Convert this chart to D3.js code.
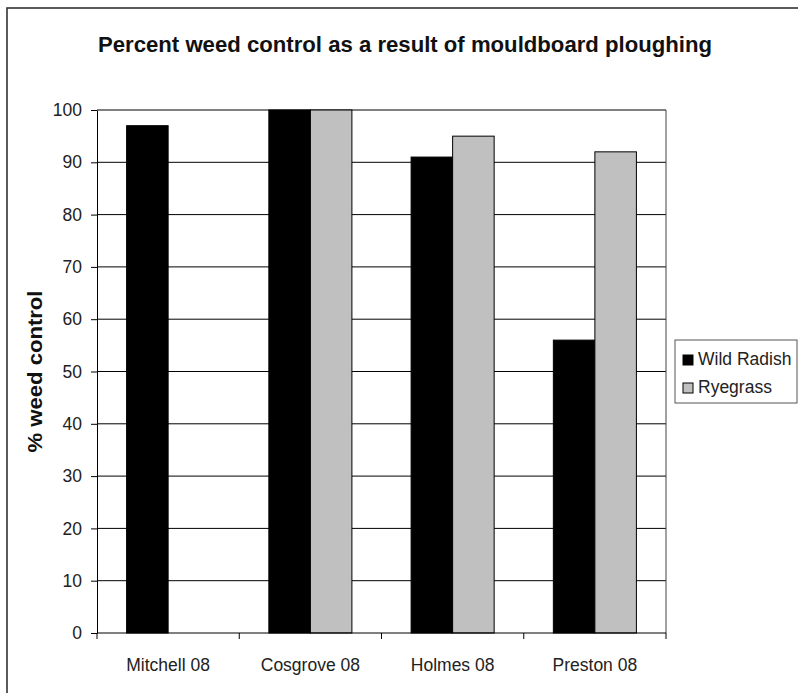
<!DOCTYPE html>
<html>
<head>
<meta charset="utf-8">
<script src="https://cdn.jsdelivr.net/npm/d3@7"></script>
<style>
  html, body { margin: 0; padding: 0; background: #fff; }
  svg { display: block; font-family: "Liberation Sans", Arial, sans-serif; }
</style>
</head>
<body>
<svg id="chart" width="798" height="693"></svg>
<script>
// Weed control after mouldboard ploughing, by trial site
const sites = ["Mitchell 08", "Cosgrove 08", "Holmes 08", "Preston 08"];
const seriesNames = ["Wild Radish", "Ryegrass"];
const wildRadish = [97, 100, 91, 56];
const ryegrass = [null, 100, 95, 92];
const yTicks = [0, 10, 20, 30, 40, 50, 60, 70, 80, 90, 100];
const seriesColors = ["#000000", "#c0c0c0"];

const svg = d3.select("#chart");
const plot = { left: 97, right: 666, top: 110, bottom: 633 };

// Outer chart frame
svg.append("rect")
  .attr("x", 7).attr("y", 8)
  .attr("width", 820).attr("height", 720)
  .attr("fill", "#fff")
  .attr("stroke", "#333").attr("stroke-width", 1.6);

const x0 = d3.scaleBand().domain(sites).range([plot.left, plot.right]).padding(0);
const inset = 29.6;
const x1 = d3.scaleBand().domain(seriesNames).range([inset, x0.bandwidth() - inset]).padding(0);
const y = d3.scaleLinear().domain([0, 100]).range([plot.bottom, plot.top]);

// Horizontal gridlines
svg.append("g")
  .selectAll("line")
  .data(yTicks.filter(d => d > 0))
  .join("line")
  .attr("x1", plot.left).attr("x2", plot.right)
  .attr("y1", d => y(d)).attr("y2", d => y(d))
  .attr("stroke", "#000").attr("stroke-width", 1);

// Right edge of plot area
svg.append("line")
  .attr("x1", plot.right).attr("x2", plot.right)
  .attr("y1", plot.top).attr("y2", plot.bottom)
  .attr("stroke", "#444").attr("stroke-width", 1);

// Bars
const rows = sites.map((s, i) => ({ site: s, values: [wildRadish[i], ryegrass[i]] }));
const groups = svg.append("g")
  .selectAll("g")
  .data(rows)
  .join("g")
  .attr("transform", d => `translate(${x0(d.site)},0)`);

groups.selectAll("rect")
  .data(d => d.values.map((v, j) => ({ name: seriesNames[j], value: v, color: seriesColors[j] }))
    .filter(d => d.value != null))
  .join("rect")
  .attr("x", d => x1(d.name))
  .attr("width", x1.bandwidth())
  .attr("y", d => y(d.value))
  .attr("height", d => y(0) - y(d.value))
  .attr("fill", d => d.color)
  .attr("stroke", "#000").attr("stroke-width", 1);

// Y axis
const yAxis = d3.axisLeft(y).tickValues(yTicks).tickSize(6).tickPadding(9).tickSizeOuter(0);
const gy = svg.append("g").attr("transform", `translate(${plot.left},0)`).call(yAxis);
gy.select(".domain").attr("stroke", "#000");
gy.selectAll(".tick line").attr("stroke", "#000");
gy.selectAll(".tick text")
  .attr("font-family", "Liberation Sans, Arial, sans-serif")
  .attr("font-size", 17.5).attr("fill", "#222");

// X axis with ticks between categories
const gx = svg.append("g").attr("transform", `translate(0,${plot.bottom})`);
gx.append("line")
  .attr("x1", plot.left).attr("x2", plot.right)
  .attr("stroke", "#000").attr("stroke-width", 1);
const boundaries = sites.map(s => x0(s)).concat([plot.right]);
gx.selectAll("line.sep")
  .data(boundaries)
  .join("line")
  .attr("class", "sep")
  .attr("x1", d => d).attr("x2", d => d)
  .attr("y1", 0).attr("y2", 6)
  .attr("stroke", "#000");
gx.selectAll("text")
  .data(sites)
  .join("text")
  .attr("x", d => x0(d) + x0.bandwidth() / 2)
  .attr("y", 38)
  .attr("text-anchor", "middle")
  .attr("font-size", 17.5).attr("fill", "#222")
  .text(d => d);

// Title
svg.append("text")
  .attr("x", 405).attr("y", 52)
  .attr("text-anchor", "middle")
  .attr("font-size", 22.5).attr("font-weight", "bold").attr("fill", "#111")
  .attr("textLength", 614).attr("lengthAdjust", "spacingAndGlyphs")
  .text("Percent weed control as a result of mouldboard ploughing");

// Y axis title
svg.append("text")
  .attr("transform", `translate(42,${(plot.top + plot.bottom) / 2}) rotate(-90)`)
  .attr("text-anchor", "middle")
  .attr("font-size", 20).attr("font-weight", "bold").attr("fill", "#111")
  .attr("textLength", 162).attr("lengthAdjust", "spacingAndGlyphs")
  .text("% weed control");

// Legend
const legend = svg.append("g");
legend.append("rect")
  .attr("x", 675).attr("y", 340).attr("width", 122).attr("height", 63)
  .attr("fill", "#fff").attr("stroke", "#555").attr("stroke-width", 1);
const items = legend.selectAll("g.item")
  .data(seriesNames)
  .join("g")
  .attr("class", "item")
  .attr("transform", (d, i) => `translate(683,${365 + i * 28})`);
items.append("rect")
  .attr("x", 0).attr("y", -10).attr("width", 10).attr("height", 10)
  .attr("fill", (d, i) => seriesColors[i])
  .attr("stroke", "#000").attr("stroke-width", 1);
items.append("text")
  .attr("x", 15).attr("y", 0)
  .attr("font-size", 17.5).attr("fill", "#222")
  .text(d => d);
</script>
</body>
</html>
